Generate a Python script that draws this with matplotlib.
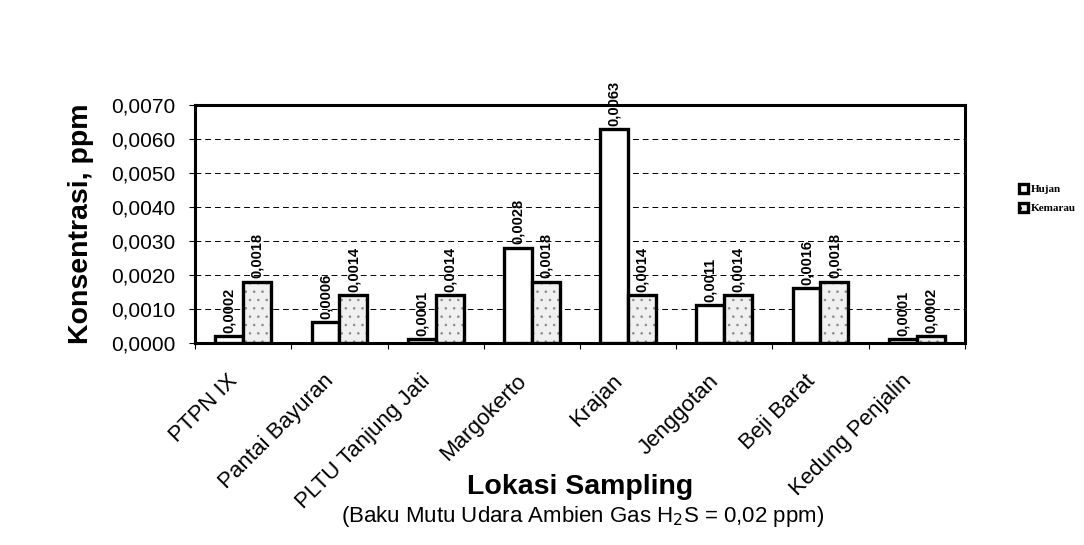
import matplotlib.pyplot as plt
import matplotlib.transforms as mtransforms
import numpy as np

lokasi = ['PTPN IX', 'Pantai Bayuran', 'PLTU Tanjung Jati', 'Margokerto',
          'Krajan', 'Jenggotan', 'Beji Barat', 'Kedung Penjalin']
hujan = [0.0002, 0.0006, 0.0001, 0.0028, 0.0063, 0.0011, 0.0016, 0.0001]
kemarau = [0.0018, 0.0014, 0.0014, 0.0018, 0.0014, 0.0014, 0.0018, 0.0002]

plt.rcParams['font.family'] = ['Liberation Sans', 'DejaVu Sans']
plt.rcParams['hatch.linewidth'] = 0.6

fig = plt.figure(figsize=(10.84, 5.45), dpi=100)
ax = fig.add_axes([0.180, 0.371, 0.710, 0.436])

x = np.arange(len(lokasi)) + 0.5
w = 0.29

b1 = ax.bar(x - w / 2, hujan, w, color='white', edgecolor='black', linewidth=2.4,
            label='Hujan', zorder=3)
# isian titik-titik abu untuk Kemarau, lalu garis tepi hitam di atasnya
ax.bar(x + w / 2, kemarau, w, color='#f0f0f0', edgecolor='#8a8a8a', linewidth=0,
       hatch='..', zorder=3)
b2 = ax.bar(x + w / 2, kemarau, w, color='none', edgecolor='black', linewidth=2.4,
            zorder=3.5)
ax.bar([0], [0], 0, color='#f0f0f0', edgecolor='black', linewidth=2.4,
       hatch='..', label='Kemarau')


def fmt(v):
    return f'{v:.4f}'.replace('.', ',')


# nilai di atas batang
for bars, vals in [(b1, hujan), (b2, kemarau)]:
    for b, v in zip(bars, vals):
        ax.text(b.get_x() + b.get_width() / 2, v + 0.0001, fmt(v),
                rotation=90, ha='center', va='bottom', fontsize=10.5,
                fontweight='bold', zorder=4)

yt = np.arange(0, 0.00701, 0.001)
ax.set_xlim(0, len(lokasi))
ax.set_ylim(0, 0.0070)
ax.set_yticks(yt)
ax.set_yticklabels([fmt(t) for t in yt], fontsize=15)
ax.set_xticks(np.arange(len(lokasi) + 1))
ax.set_xticklabels([])
ax.set_xticks(x, minor=True)
ax.set_xticklabels(lokasi, minor=True, rotation=45, ha='right',
                   rotation_mode='anchor', fontsize=16)
ax.tick_params(axis='x', which='minor', length=0, pad=4)
ax.tick_params(axis='x', which='major', length=4, direction='out')
ax.tick_params(axis='y', length=4, pad=10)

# geser label kategori sedikit ke kiri-bawah
offset = mtransforms.ScaledTranslation(-0.16, -0.22, fig.dpi_scale_trans)
for lbl in ax.xaxis.get_minorticklabels():
    lbl.set_transform(lbl.get_transform() + offset)

ax.grid(axis='y', color='black', linestyle=(0, (6, 4)), linewidth=0.7, zorder=0)
for s in ax.spines.values():
    s.set_linewidth(2.2)

ax.set_ylabel('Konsentrasi, ppm', fontsize=20.5, fontweight='bold')
ax.yaxis.set_label_coords(-0.131, 0.5)

fig.text(0.535, 0.106, 'Lokasi Sampling', ha='center', va='center',
         fontsize=20.5, fontweight='bold')
fig.text(0.537, 0.053, '(Baku Mutu Udara Ambien Gas H$_2$S = 0,02 ppm)',
         ha='center', va='center', fontsize=16)

ax.legend(loc='upper left', bbox_to_anchor=(1.058, 0.71), frameon=False,
          handlelength=0.8, handleheight=0.8, handletextpad=0.2, labelspacing=0.8,
          prop={'family': 'Liberation Serif', 'weight': 'bold', 'size': 8})

fig.savefig('out.png', dpi=100)
